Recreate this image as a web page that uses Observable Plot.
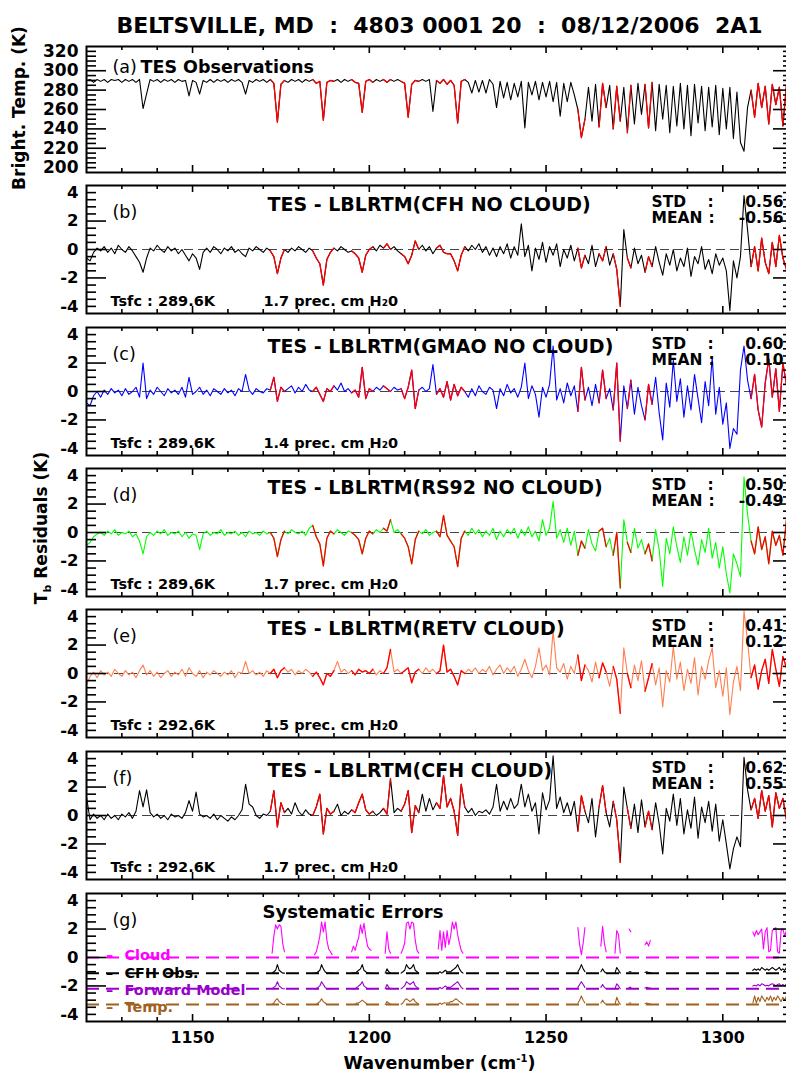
<!DOCTYPE html>
<html><head><meta charset="utf-8">
<script src="https://cdn.jsdelivr.net/npm/d3@7"></script>
<script src="https://cdn.jsdelivr.net/npm/@observablehq/plot@0.6"></script>
<style>
html,body{margin:0;padding:0;overflow:hidden;background:#fff;}
#root{position:relative;width:800px;height:1072px;overflow:hidden;}
#labels text{font-family:"DejaVu Sans";font-weight:bold;white-space:pre;}
</style></head><body>
<div id="root">
<svg id="labels" width="800" height="1072" style="position:absolute;left:0;top:0">
  <text x="439.5" y="33" font-size="22" text-anchor="middle" xml:space="preserve">BELTSVILLE, MD  :  4803 0001 20  :  08/12/2006  2A1</text>
  <text transform="translate(25,108) rotate(-90)" font-size="17" text-anchor="middle">Bright. Temp. (K)</text>
  <text transform="translate(47,528) rotate(-90)" font-size="17" text-anchor="middle">T<tspan dy="4" font-size="11">b</tspan><tspan dy="-4"> Residuals (K)</tspan></text>
  <text x="439.5" y="1069" font-size="17.5" text-anchor="middle">Wavenumber (cm<tspan dy="-7" font-size="10">-1</tspan><tspan dy="7">)</tspan></text>
</svg>
</div>
<script>
// ---------- data (1 cm-1 grid from 1120 to 1320) ----------
const wavenumbers = d3.range(1120, 1321);

const obsTb = [
290,291,288,291,289,291,288,291,290,291,
288,291,289,291,288,291,261,276,291,289,
291,288,291,289,291,288,291,289,290,274,
290,288,276,290,288,291,288,291,289,291,
288,291,289,291,288,276,290,288,291,289,
291,288,291,287,247,286,290,288,291,289,
291,288,291,289,291,287,289,249,288,290,
289,291,288,291,289,291,288,287,257,289,
291,288,291,289,291,288,291,289,291,289,
287,252,286,290,289,291,289,291,258,290,
287,291,286,290,285,246,289,291,288,277,
290,278,290,277,291,286,262,289,272,288,
270,287,273,289,241,288,275,289,270,288,
273,289,268,288,253,287,268,288,275,260,
231,250,283,248,286,242,287,262,285,240,
284,248,283,236,285,245,287,255,286,241,
288,238,286,250,285,236,284,243,287,240,
285,233,286,246,284,238,283,242,285,234,
282,240,283,230,278,226,217,262,280,252,
287,262,284,245,286,265,283,243,285,255,
284];

const resB = [
-0.6,-0.8,-0.2,0.1,-0.1,0.2,-0.2,0.1,-0.3,0.3,
0.0,-0.2,0.2,-0.1,-0.5,-0.9,-1.6,-0.6,0.1,-0.1,
0.3,0.0,-0.2,0.2,-0.1,0.1,-0.3,0.0,-0.4,-0.8,
-0.3,-0.6,-1.4,-0.2,0.1,-0.2,0.2,0.0,-0.3,0.1,
-0.1,0.2,-0.2,0.0,-0.3,-0.5,0.1,-0.1,0.2,0.0,
-0.2,0.1,-0.1,-0.5,-1.7,-0.6,0.0,-0.2,0.1,-0.1,
0.2,0.0,-0.2,0.1,-0.1,-0.6,-1.0,-2.5,-0.7,-0.2,
0.1,-0.1,0.2,0.0,-0.2,-0.1,-0.3,-0.6,-1.6,-0.4,
0.0,0.2,-0.1,0.3,0.1,0.4,0.0,0.2,-0.1,-0.3,
-0.5,-1.0,-0.4,0.6,0.0,0.3,-0.1,0.2,-0.3,0.1,
0.3,-0.2,-0.3,-0.3,-0.8,-1.5,-0.4,0.2,-0.1,0.3,
0.0,0.4,-0.2,0.2,-0.4,0.1,-0.5,0.2,-0.3,0.4,
-0.6,0.2,-0.4,1.8,-0.5,0.3,-1.5,0.1,-0.7,0.5,
-0.9,0.2,-0.4,0.4,-1.2,0.0,-0.6,0.3,-0.8,0.1,
-1.3,-0.4,-1.0,0.3,-1.2,-0.3,-0.8,0.2,-1.1,-0.3,
-1.4,-4.0,1.4,-0.6,-1.3,0.1,-1.0,-0.4,-1.6,-0.5,
-1.2,0.2,-0.9,-1.8,-0.3,-1.1,0.0,-1.5,-0.6,-1.2,
0.1,-1.9,-0.5,-1.0,0.2,-1.4,-0.7,-1.7,-0.3,-1.1,
-0.6,-1.5,-4.3,-0.8,-2.0,-0.5,3.8,1.4,-1.2,0.2,
-1.5,0.8,-0.9,-1.7,0.5,-1.2,1.0,-0.6,-1.4,0.3,
-0.8];

const resC = [
-0.8,-1.0,-0.3,0.0,-0.4,0.1,-0.2,0.2,-0.1,0.1,
-0.3,0.2,-0.2,0.0,0.3,-0.4,2.0,-0.5,0.1,-0.2,
0.3,0.0,-0.3,0.2,-0.1,0.1,-0.2,0.3,-0.4,1.0,
-0.2,0.0,0.3,-0.2,0.1,-0.3,0.2,0.0,-0.2,0.2,
-0.1,0.1,-0.3,0.2,0.0,1.2,0.1,-0.2,0.2,0.0,
-0.1,0.2,0.1,1.0,-0.7,0.3,0.0,0.2,0.4,-0.1,
0.3,0.0,0.5,0.1,0.0,0.3,-0.2,-0.7,0.2,0.0,
0.4,0.1,0.6,0.0,0.2,-0.1,0.1,-0.4,1.7,-0.5,
0.2,0.0,0.3,0.1,0.4,0.2,0.0,0.3,0.1,0.2,
-0.5,0.3,1.5,-1.2,0.1,0.3,0.0,0.2,1.9,-0.2,
0.2,-0.4,0.7,-0.6,0.5,-0.3,0.3,0.0,-0.4,0.2,
-0.3,0.4,0.0,-0.2,0.3,0.1,-1.2,0.2,-0.3,0.5,
-0.1,0.2,-0.4,0.3,2.0,-0.5,0.4,-0.2,-1.8,0.3,
-0.4,0.5,3.2,-0.6,0.2,-0.8,0.6,-0.3,0.4,-1.4,
1.7,-0.6,0.3,-1.0,0.5,-0.8,1.5,-0.5,0.2,-1.3,
2.0,-3.5,0.4,-1.2,0.8,-1.6,0.3,-1.0,-2.0,0.5,
-0.9,1.0,-1.5,-3.4,0.6,-1.1,2.2,-0.7,0.9,-1.8,
0.4,-1.3,1.2,-0.5,-2.2,0.7,-1.0,2.4,-1.6,0.3,
-2.3,-0.8,-4.0,-2.6,-3.0,1.5,3.2,0.8,-0.5,1.2,
-1.3,-2.5,0.6,2.3,-0.4,1.6,-1.4,2.0,0.5,-0.9,
1.1];

const resD = [
-0.9,-0.7,-0.3,-0.1,0.0,-0.2,0.1,-0.1,0.2,-0.2,
0.0,-0.1,0.1,-0.3,-0.1,-0.6,-1.5,-0.3,0.0,-0.2,
0.1,-0.1,0.2,-0.2,0.0,-0.1,0.1,-0.3,0.0,-0.4,
-0.1,-0.2,-1.2,-0.1,0.1,-0.2,0.0,-0.1,0.2,-0.2,
0.0,-0.1,0.1,-0.2,0.0,-0.3,0.1,-0.1,0.0,-0.2,
0.1,-0.1,0.0,-0.4,-1.7,-0.5,0.1,-0.1,0.2,0.0,
-0.1,0.1,-0.2,0.3,0.5,-0.3,-0.8,-2.35,-0.4,0.1,
-0.1,0.2,0.0,-0.2,0.1,0.0,-0.2,-0.5,-1.5,-0.4,
0.1,-0.1,0.2,0.0,0.3,0.1,0.9,0.0,0.2,-0.1,
-0.4,-1.0,-2.2,-0.5,0.1,-0.1,0.2,-0.2,0.0,0.1,
-0.3,1.2,-0.2,-0.6,-1.0,-2.4,-0.4,0.1,-0.2,0.3,
-0.1,0.2,-0.3,0.1,-0.2,0.3,-0.5,0.1,-0.3,0.2,
-0.1,0.3,-0.4,0.2,-0.2,0.4,-0.3,0.1,-0.6,0.9,
-0.2,0.3,2.2,-0.4,0.2,-0.7,0.3,-0.9,0.1,-1.6,
-0.6,-1.1,0.2,-0.8,-1.3,0.1,0.3,-1.0,-0.4,-1.6,
0.0,-3.9,0.9,-0.7,-1.4,0.3,-1.1,-0.5,-1.5,-0.8,
-2.0,0.2,-1.2,-3.8,-0.4,-1.5,0.4,-1.0,-2.1,-0.3,
-1.6,0.1,-1.2,-2.3,-0.5,-1.4,0.3,-1.8,-0.7,-2.5,
-1.0,-2.9,-4.25,-1.5,-2.2,-3.1,3.9,1.3,-0.6,-1.5,
0.4,-1.2,-0.3,-2.2,0.1,-0.9,-0.2,-1.6,0.9,-0.5,
-0.2];

const resE = [
-0.8,-0.2,0.1,-0.3,0.2,-0.1,0.1,-0.2,0.3,0.0,
-0.2,0.2,-0.1,0.1,-0.3,0.2,0.6,-0.1,0.2,-0.2,
0.1,-0.3,0.0,0.2,-0.2,0.1,-0.1,0.3,-0.2,0.4,
0.0,-0.2,0.2,-0.3,0.1,-0.1,0.2,0.0,-0.2,0.1,
-0.1,0.2,-0.3,0.1,0.0,0.85,0.0,0.2,-0.1,0.1,
-0.2,0.2,0.0,0.3,-0.3,0.2,0.4,0.1,0.3,-0.1,
0.2,0.0,0.3,0.1,-0.2,0.1,-0.3,-0.8,0.0,-0.2,
0.2,0.85,0.1,0.3,0.0,0.2,-0.1,0.3,0.1,0.2,
0.0,0.3,-0.1,0.2,0.0,0.4,1.7,0.1,0.3,0.0,
0.2,0.4,-0.65,0.1,0.3,0.0,0.4,0.1,0.3,0.0,
0.2,2.0,0.1,0.3,-0.2,-0.8,0.2,0.0,0.3,0.1,
0.4,0.0,0.3,0.1,0.5,-0.1,0.3,0.6,0.0,0.4,
0.1,0.5,-0.2,0.3,1.0,0.2,-0.3,0.5,1.8,0.2,
0.6,-0.1,3.0,0.4,0.1,0.7,-0.4,0.5,0.0,1.3,
-0.5,0.6,0.2,-0.6,0.8,-0.3,0.75,0.1,-0.9,0.5,
-0.4,-2.8,1.8,0.0,-1.0,0.6,-0.5,0.9,-1.25,-0.3,
0.7,-0.8,0.4,-2.35,0.2,-0.6,1.9,-0.4,0.8,-1.2,
0.3,-0.7,1.1,-1.5,0.5,-0.4,0.9,1.8,-1.0,0.2,
-1.6,0.4,-2.9,-0.6,0.5,-1.2,4.4,2.3,-0.3,0.6,
-1.1,0.2,1.0,-0.7,1.7,0.3,-0.9,1.2,0.4,-0.5,
0.8];

const resF = [
1.3,-0.3,0.1,-0.2,0.0,-0.3,0.1,-0.2,0.0,-0.3,
0.1,-0.1,0.2,-0.2,0.3,1.75,0.6,1.8,0.2,-0.1,
0.1,-0.2,0.0,-0.3,0.1,-0.1,0.0,-0.2,0.2,1.05,
0.3,1.65,0.1,-0.1,0.0,-0.2,0.1,-0.3,0.0,-0.2,
-0.4,-0.1,-0.3,0.0,0.4,2.2,0.8,0.6,0.0,-0.2,
0.1,0.0,0.3,1.75,-0.8,0.9,0.2,0.5,0.1,0.9,
0.3,0.0,0.4,0.1,0.0,0.6,1.5,-1.3,0.5,0.1,
0.3,0.8,0.0,0.3,0.1,0.4,0.2,0.9,1.5,0.4,
0.1,0.3,0.0,0.2,0.5,0.1,2.6,0.2,0.5,0.3,
0.8,1.75,-1.2,0.7,0.2,1.5,0.3,1.2,0.4,0.9,
0.5,2.8,0.6,1.2,0.3,-1.4,2.2,0.6,0.2,0.5,
0.0,0.3,0.2,0.4,0.1,0.6,2.2,0.3,1.0,0.4,
1.2,0.5,0.8,2.2,0.6,1.5,0.3,0.9,-1.3,1.6,
0.4,1.1,4.2,0.5,1.3,0.2,0.9,0.0,1.0,-1.1,
1.4,0.3,-0.5,1.2,-1.5,0.6,2.1,0.2,-0.8,1.0,
-0.3,-3.3,2.0,0.5,-0.9,0.8,-1.2,1.1,-0.8,0.3,
-1.0,0.9,-0.6,-2.7,0.5,-0.4,1.5,-0.7,1.2,-1.3,
0.4,-0.9,1.3,-1.6,0.6,-0.5,1.0,-1.1,0.8,-1.8,
-0.3,-2.0,-3.75,-2.35,-1.5,-2.2,4.1,1.8,0.4,1.2,
-0.2,1.75,0.3,1.4,-0.8,1.6,0.5,1.2,-0.3,1.0,
0.6];

// microwindow starts (cm-1); systematic-error values every 0.5 cm-1 inside each window
const gStarts = [1172.5, 1184.5, 1195, 1204.5, 1209, 1219.5, 1259, 1265.5, 1269.5, 1273.5, 1278, 1308.5];
const cloudErr = [
[0.3,1.5,2.3,2.0,2.3,2.2,1.0,0.4],
[0.2,0.4,0.9,1.5,2.5,1.8,2.5,1.2,0.6,0.4,0.2],
[0.4,0.8,0.5,1.0,1.4,2.3,1.7,2.4,1.5,0.8,0.6,0.5],
[0.3,1.8,0.6,0.3],
[0.3,0.6,1.0,2.4,2.5,2.0,2.5,2.4,1.2,0.5,0.3],
[0.6,1.9,0.5,1.8,0.7,1.9,0.9,1.5,2.5,2.0,2.5,1.6,1.0,0.5,0.3],
[2.1,0.9,0.2,1.0,2.1],
[0.8,2.2,1.0,0.4],
[0.3,1.9,1.6,0.3],
[2.0,1.8],
[0.9,1.1,0.8,1.2],
[1.8,1.5,1.9,1.6,1.8,2.0,0.6,1.8,2.1,0.4,0.5,1.9,2.0,2.1,0.4,0.3,1.9,2.0,1.5,1.9,1.7,1.8,0.5,1.9]];
const obsErr = [
[0,0.1,0.2,0.6,0.2,0.1,0,0],
[0,0,0.1,0.2,0.6,0.3,0.1,0,0,0,0],
[0,0,0,0.1,0.2,0.3,0.6,0.2,0.1,0,0,0],
[0,0.3,0.1,0],
[0,0.1,0.2,0.6,0.4,0.3,0.4,0.6,0.2,0.1,0],
[0,0.1,0,0.1,0.2,0.1,0.1,0.1,0.2,0.3,0.4,0.6,0.3,0.1,0],
[0.1,0.3,0.6,0.3,0.1],
[0.1,0.3,0.1,0],
[0,0.4,0.2,0],
[0.1,0.1],
[0.05,0.1,0.05,0.05],
[0.2,0.3,0.2,0.3,0.2,0.4,0.3,0.2,0.3,0.2,0.3,0.4,0.3,0.2,0.3,0.4,0.2,0.3,0.2,0.4,0.3,0.2,0.3,0.3]];
const fwdErr = [
[0,0.1,0.2,0.5,0.2,0.1,0,0],
[0,0,0.1,0.2,0.5,0.3,0.1,0,0,0,0],
[0,0,0,0.1,0.2,0.3,0.5,0.2,0.1,0,0,0],
[0,0.3,0.1,0],
[0,0.1,0.2,0.5,0.4,0.3,0.4,0.5,0.2,0.1,0],
[0,0.1,0,0.1,0.2,0.1,0.1,0.1,0.2,0.3,0.4,0.5,0.3,0.1,0],
[0.1,0.3,0.5,0.3,0.1],
[0.1,0.3,0.1,0],
[0,0.35,0.2,0],
[0.1,0.1],
[0.05,0.1,0.05,0.05],
[0.2,0.25,0.2,0.3,0.2,0.35,0.3,0.2,0.25,0.2,0.3,0.35,0.3,0.2,0.3,0.35,0.2,0.3,0.2,0.35,0.3,0.2,0.25,0.3]];
const tempErr = [
[0,0.1,0.3,0.4,0.2,0.1,0,0],
[0,0,0.1,0.2,0.4,0.2,0.1,0,0,0,0],
[0,0,0,0.1,0.1,0.2,0.3,0.2,0.1,0,0,0],
[0,0.2,0.1,0],
[0,0.1,0.3,0.4,0.3,0.2,0.3,0.4,0.2,0.1,0],
[0,0.1,0,0.1,0.1,0.1,0.1,0.2,0.2,0.3,0.4,0.3,0.2,0.1,0],
[0.1,0.3,0.6,0.3,0.1],
[0.1,0.3,0.1,0],
[0,0.5,0.2,0],
[0.1,0.1],
[0.05,0.1,0.05,0.05],
[0.1,0.6,0.1,0.5,0.2,0.6,0.4,0.2,0.5,0.3,0.6,0.2,0.5,0.3,0.6,0.4,0.2,0.5,0.3,0.6,0.4,0.3,0.5,0.4]];

const panelLetters = ["(b)","(c)","(d)","(e)","(f)"];
const panelTitles = ["TES - LBLRTM(CFH NO CLOUD)","TES - LBLRTM(GMAO NO CLOUD)","TES - LBLRTM(RS92 NO CLOUD)","TES - LBLRTM(RETV CLOUD)","TES - LBLRTM(CFH CLOUD)"];
const stdValues = ["0.56","0.60","0.50","0.41","0.62"];
const meanValues = ["-0.56","0.10","-0.49","0.12","0.55"];
const tsfcValues = ["289.6K","289.6K","289.6K","292.6K","292.6K"];
const h2oValues = ["1.7","1.4","1.7","1.5","1.7"];
const residualSeries = [resB, resC, resD, resE, resF];
const lineColors = ["black","#0000FF","#00FF00","#FF7F50","black"];

const sysNames = ["Cloud","CFH Obs.","Forward Model","Temp."];
const sysColors = ["#FF00FF","black","#9900CC","#A0601E"];
const sysOffsets = [0,-1.1,-2.2,-3.3];
const sysSeries = [cloudErr, obsErr, fwdErr, tempErr];

const xMajor = [1150,1200,1250,1300];
const xMinor = [1130,1140,1160,1170,1180,1190,1210,1220,1230,1240,1260,1270,1280,1290,1310];
const yLabelsRes = [-4,-2,0,2,4];
const yLongRes = [-2,0,2];
const yShortRes = [-4,-3.5,-3,-2.5,-1.5,-1,-0.5,0.5,1,1.5,2.5,3,3.5,4];
const yLabelsA = [200,220,240,260,280,300,320];
const yLongA = [220,240,260,280,300];
const yShortA = [200,205,210,215,225,230,235,245,250,255,265,270,275,285,290,295,305,310,315,320];

// ---------- layout ----------
const W = 800, ML = 86, MR = 7, MT = 14, MB = 14;
const IW = W - ML - MR;
const panelTop = [46, 185, 327, 468, 609, 751, 893];
const panelH = [126, 128, 128, 128, 128, 128, 128];
const FONT = "DejaVu Sans";
const root = document.getElementById("root");

const windowEnds = gStarts.map((s, w) => s + 0.5 * (cloudErr[w].length - 1));
const inWindow = x => gStarts.some((s, w) => x >= s - 0.5 && x <= windowEnds[w] + 0.5);

function frameTicks(yLong, yShort, ih) {
  const s = {stroke: "black", strokeWidth: 1.6};
  return [
    Plot.tickY(yLong, {y: d => d, insetRight: IW - 20, ...s}),
    Plot.tickY(yShort, {y: d => d, insetRight: IW - 10, ...s}),
    Plot.tickY(yLong, {y: d => d, insetLeft: IW - 20, ...s}),
    Plot.tickY(yShort, {y: d => d, insetLeft: IW - 10, ...s}),
    Plot.tickX(xMajor, {x: d => d, insetTop: ih - 7, ...s}),
    Plot.tickX(xMinor, {x: d => d, insetTop: ih - 4, ...s}),
    Plot.tickX(xMajor, {x: d => d, insetBottom: ih - 7, ...s}),
    Plot.tickX(xMinor, {x: d => d, insetBottom: ih - 4, ...s}),
    Plot.frame({stroke: "black", strokeWidth: 2})
  ];
}
function label(str, o) {
  return Plot.text([str], {text: d => d, frameAnchor: "top-left", textAnchor: "start", fontFamily: FONT, fill: "black", ...o});
}
function yLabels(vals, size) {
  return Plot.text(vals, {y: d => d, text: d => String(d), frameAnchor: "left", dx: -8, textAnchor: "end", fontFamily: FONT, fontWeight: "bold", fontSize: size, fill: "black"});
}
function render(i, yDomain, marks) {
  const ih = panelH[i];
  const svg = Plot.plot({
    width: W, height: ih + MT + MB,
    marginLeft: ML, marginRight: MR, marginTop: MT, marginBottom: MB,
    x: {domain: [1120, 1320], axis: null},
    y: {domain: yDomain, axis: null},
    style: {background: "none", overflow: "visible", maxWidth: "none", fontFamily: FONT},
    marks
  });
  svg.style.position = "absolute";
  svg.style.left = "0px";
  svg.style.top = (panelTop[i] - MT) + "px";
  root.appendChild(svg);
}

// ---------- panel (a) ----------
{
  const rows = wavenumbers.map((wn, k) => ({wn, v: obsTb[k], r: inWindow(wn) ? obsTb[k] : NaN}));
  render(0, [195, 325], [
    Plot.line(rows, {x: "wn", y: "v", stroke: "black", strokeWidth: 1.1}),
    Plot.line(rows, {x: "wn", y: "r", stroke: "#FF0000", strokeWidth: 1.3}),
    label("(a)", {dx: 26, dy: 14, fontSize: 17.5}),
    label("TES Observations", {dx: 54, dy: 14, fontSize: 17.5, fontWeight: "bold"}),
    yLabels(yLabelsA, 17),
    ...frameTicks(yLongA, yShortA, panelH[0])
  ]);
}

// ---------- panels (b)-(f) ----------
residualSeries.forEach((ser, p) => {
  const rows = wavenumbers.map((wn, k) => ({wn, v: ser[k], r: inWindow(wn) ? ser[k] : NaN}));
  const bold = {fontWeight: "bold"};
  render(p + 1, [-4.5, 4.5], [
    Plot.ruleY([0], {stroke: "#444", strokeWidth: 1.2, strokeDasharray: "9,5"}),
    Plot.line(rows, {x: "wn", y: "v", stroke: lineColors[p], strokeWidth: 1.1}),
    Plot.line(rows, {x: "wn", y: "r", stroke: "#FF0000", strokeWidth: 1.3}),
    label(panelLetters[p], {dx: 26, dy: 20, fontSize: 17.5}),
    label(panelTitles[p], {dx: 181, dy: 12, fontSize: 19, ...bold}),
    label("STD", {dx: 565, dy: 10, fontSize: 15.5, ...bold}),
    label(":", {dx: 624, dy: 10, fontSize: 15.5, textAnchor: "middle", ...bold}),
    label(stdValues[p], {dx: 697, dy: 10, fontSize: 15.5, textAnchor: "end", ...bold}),
    label("MEAN", {dx: 565, dy: 26, fontSize: 15.5, ...bold}),
    label(":", {dx: 625, dy: 26, fontSize: 15.5, textAnchor: "middle", ...bold}),
    label(meanValues[p], {dx: 697, dy: 26, fontSize: 15.5, textAnchor: "end", ...bold}),
    label("Tsfc : " + tsfcValues[p], {dx: 24, dy: 110, fontSize: 14.5, ...bold}),
    label(h2oValues[p] + " prec. cm H\u20820", {dx: 177, dy: 110, fontSize: 14.5, ...bold}),
    yLabels(yLabelsRes, 16.5),
    ...frameTicks(yLongRes, yShortRes, panelH[p + 1])
  ]);
});

// ---------- panel (g) ----------
{
  const marks = [];
  sysSeries.forEach((ser, s) => {
    marks.push(label("\u2013", {dx: 23, dy: 56.5 + 17.3 * s, fontSize: 14.4, fill: sysColors[s], textAnchor: "middle", fontWeight: "bold"}));
    marks.push(label(sysNames[s], {dx: 38, dy: 56.5 + 17.3 * s, fontSize: 14.4, fill: sysColors[s], fontWeight: "bold"}));
  });
  sysSeries.forEach((ser, s) => {
    const rows = [];
    ser.forEach((vals, w) => vals.forEach((v, k) => rows.push({w, wn: gStarts[w] + 0.5 * k, v: sysOffsets[s] + v})));
    marks.push(Plot.ruleY([sysOffsets[s]], {stroke: sysColors[s], strokeWidth: 2, strokeDasharray: "13,7"}));
    marks.push(Plot.line(rows, {x: "wn", y: "v", z: "w", stroke: sysColors[s], strokeWidth: 1.1}));
  });
  marks.push(
    label("(g)", {dx: 26, dy: 20, fontSize: 17.5}),
    label("Systematic Errors", {dx: 176, dy: 12, fontSize: 18, fontWeight: "bold"}),
    yLabels(yLabelsRes, 16.5),
    Plot.text(xMajor, {x: d => d, text: d => String(d), frameAnchor: "bottom", dy: 21, fontFamily: FONT, fontWeight: "bold", fontSize: 15.8, fill: "black"}),
    ...frameTicks(yLongRes, yShortRes, panelH[6])
  );
  render(6, [-4.5, 4.5], marks);
}
</script>
</body></html>
